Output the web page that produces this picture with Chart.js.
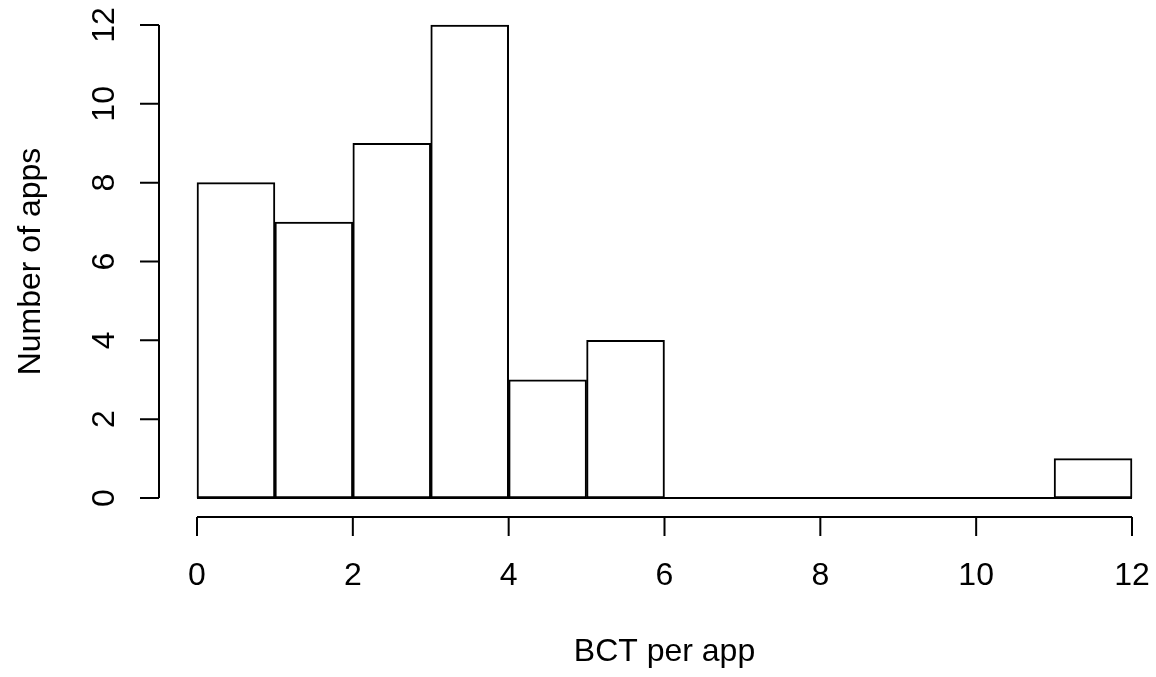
<!DOCTYPE html>
<html>
<head>
<meta charset="utf-8">
<script src="https://cdn.jsdelivr.net/npm/chart.js@4/dist/chart.umd.min.js"></script>
<style>
    html, body { margin: 0; padding: 0; background: #ffffff; }
    #wrap { width: 1156px; height: 677px; position: relative; }
</style>
</head>
<body>
<div id="wrap"><canvas id="hist"></canvas></div>
<script>
// Histogram data
const binStarts = [0, 1, 2, 3, 4, 5, 6, 7, 8, 9, 10, 11];
const binWidth = 1;
const counts = [8, 7, 9, 12, 3, 4, 0, 0, 0, 0, 0, 1];
const xTicks = [0, 2, 4, 6, 8, 10, 12];
const yTicks = [0, 2, 4, 6, 8, 10, 12];
const xTitle = 'BCT per app';
const yTitle = 'Number of apps';

const FONT = '32px "Liberation Sans", Arial, sans-serif';

// R style detached axes, drawn from the chart scales
const rAxes = {
    id: 'rAxes',
    afterDraw(chart) {
        const { ctx, scales: { x, y } } = chart;
        const xAxisY = 517;
        const yAxisX = 159;
        const tick = 19;

        ctx.save();
        ctx.strokeStyle = '#000';
        ctx.lineWidth = 2;
        ctx.fillStyle = '#000';
        ctx.font = FONT;

        // x axis
        ctx.beginPath();
        ctx.moveTo(x.getPixelForValue(xTicks[0]), xAxisY);
        ctx.lineTo(x.getPixelForValue(xTicks[xTicks.length - 1]), xAxisY);
        xTicks.forEach(v => {
            const px = x.getPixelForValue(v);
            ctx.moveTo(px, xAxisY);
            ctx.lineTo(px, xAxisY + tick);
        });
        ctx.stroke();
        ctx.textAlign = 'center';
        ctx.textBaseline = 'middle';
        xTicks.forEach(v => ctx.fillText(String(v), x.getPixelForValue(v), 576));

        // y axis
        ctx.beginPath();
        ctx.moveTo(yAxisX, y.getPixelForValue(yTicks[0]));
        ctx.lineTo(yAxisX, y.getPixelForValue(yTicks[yTicks.length - 1]));
        yTicks.forEach(v => {
            const py = y.getPixelForValue(v);
            ctx.moveTo(yAxisX, py);
            ctx.lineTo(yAxisX - tick, py);
        });
        ctx.stroke();
        yTicks.forEach(v => {
            ctx.save();
            ctx.translate(105, y.getPixelForValue(v));
            ctx.rotate(-Math.PI / 2);
            ctx.fillText(String(v), 0, 0);
            ctx.restore();
        });

        // titles
        ctx.fillText(xTitle, (x.left + x.right) / 2, 652);
        ctx.save();
        ctx.translate(31, (y.top + y.bottom) / 2);
        ctx.rotate(-Math.PI / 2);
        ctx.fillText(yTitle, 0, 0);
        ctx.restore();

        ctx.restore();
    }
};

const ctx = document.getElementById('hist').getContext('2d');
new Chart(ctx, {
    type: 'bar',
    data: {
        datasets: [
            {
                data: binStarts.map((s, i) => ({ x: s + binWidth / 2, y: counts[i] })),
                backgroundColor: '#ffffff',
                borderColor: '#000000',
                borderWidth: 2,
                borderSkipped: false,
                barPercentage: 1,
                categoryPercentage: 1,
                clip: 4
            },
            {
                // baseline under empty bins
                type: 'line',
                data: [
                    { x: binStarts[0], y: 0 },
                    { x: binStarts[binStarts.length - 1] + binWidth, y: 0 }
                ],
                borderColor: '#000000',
                borderWidth: 2,
                pointRadius: 0,
                clip: 4
            }
        ]
    },
    options: {
        responsive: true,
        maintainAspectRatio: false,
        animation: false,
        layout: { padding: { left: 197, right: 24, top: 25, bottom: 179 } },
        plugins: { legend: { display: false }, tooltip: { enabled: false } },
        scales: {
            x: { type: 'linear', min: 0, max: 12, offset: false, display: false },
            y: { min: 0, max: 12, display: false }
        }
    },
    plugins: [rAxes]
});
</script>
</body>
</html>
